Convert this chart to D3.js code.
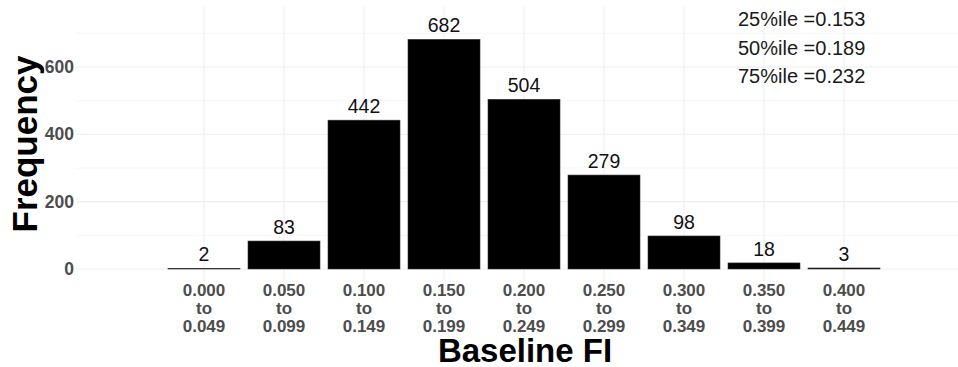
<!DOCTYPE html>
<html>
<head>
<meta charset="utf-8">
<script src="https://cdn.jsdelivr.net/npm/d3@7"></script>
<style>
  body { margin: 0; background: #fff; }
  svg { display: block; font-family: "Liberation Sans", Arial, sans-serif; }
</style>
</head>
<body>
<div id="chart"></div>
<script>
// bins of baseline FI and their counts
const binStart = ['0.000', '0.050', '0.100', '0.150', '0.200', '0.250', '0.300', '0.350', '0.400'];
const binEnd = ['0.049', '0.099', '0.149', '0.199', '0.249', '0.299', '0.349', '0.399', '0.449'];
const counts = [2, 83, 442, 682, 504, 279, 98, 18, 3];
const yTicks = [0, 200, 400, 600];
const yMinor = [100, 300, 500, 700];
const quantiles = ['25%ile =0.153', '50%ile =0.189', '75%ile =0.232'];

const width = 958, height = 367;
const panel = {left: 76, right: 964, top: 7, bottom: 281};

const data = binStart.map((s, i) => ({key: s + ' to ' + binEnd[i], lo: s, hi: binEnd[i], n: counts[i]}));

const x = d3.scaleBand()
  .domain(data.map(d => d.key))
  .range([164, 884])
  .paddingInner(0.1)
  .paddingOuter(0.05);

const y = d3.scaleLinear().domain([0, 700]).range([269, 33.3]);

const svg = d3.select('#chart').append('svg')
  .attr('width', width)
  .attr('height', height);

// grid
const grid = svg.append('g');
grid.selectAll('.minor').data(yMinor).enter().append('line')
  .attr('x1', panel.left).attr('x2', panel.right)
  .attr('y1', d => y(d)).attr('y2', d => y(d))
  .attr('stroke', '#f4f4f4').attr('stroke-width', 0.8);
grid.selectAll('.major').data(yTicks).enter().append('line')
  .attr('x1', panel.left).attr('x2', panel.right)
  .attr('y1', d => y(d)).attr('y2', d => y(d))
  .attr('stroke', '#eeeeee').attr('stroke-width', 1.1);
grid.selectAll('.vert').data(data).enter().append('line')
  .attr('x1', d => x(d.key) + x.bandwidth() / 2).attr('x2', d => x(d.key) + x.bandwidth() / 2)
  .attr('y1', panel.top).attr('y2', panel.bottom)
  .attr('stroke', '#eeeeee').attr('stroke-width', 1.1);

// bars
svg.selectAll('rect.bar').data(data).enter().append('rect')
  .attr('class', 'bar')
  .attr('x', d => x(d.key))
  .attr('y', d => y(d.n))
  .attr('width', x.bandwidth())
  .attr('height', d => y(0) - y(d.n))
  .attr('fill', '#000')
  .attr('stroke', '#333')
  .attr('stroke-width', 0.6);

// count labels
svg.selectAll('text.count').data(data).enter().append('text')
  .attr('class', 'count')
  .attr('x', d => x(d.key) + x.bandwidth() / 2)
  .attr('y', d => y(d.n) - 7)
  .attr('text-anchor', 'middle')
  .attr('font-size', 19.5)
  .attr('fill', '#111')
  .text(d => d.n);

// y axis labels
const yAxis = svg.append('g')
  .attr('transform', 'translate(74,0)')
  .call(d3.axisLeft(y).tickValues(yTicks).tickSize(0).tickPadding(0));
yAxis.select('.domain').remove();
yAxis.selectAll('text')
  .attr('font-size', 17.5)
  .attr('font-weight', 'bold')
  .attr('font-family', '"Liberation Sans", Arial, sans-serif')
  .attr('fill', '#4d4d4d');

// x axis labels on three lines
const xLab = svg.selectAll('text.xlab').data(data).enter().append('text')
  .attr('class', 'xlab')
  .attr('text-anchor', 'middle')
  .attr('font-size', 17)
  .attr('font-weight', 'bold')
  .attr('fill', '#4d4d4d');
[d => d.lo, d => 'to', d => d.hi].forEach((f, i) => {
  xLab.append('tspan')
    .attr('x', d => x(d.key) + x.bandwidth() / 2)
    .attr('y', 296 + i * 18)
    .text(f);
});

// axis titles
svg.append('text')
  .attr('transform', 'translate(37,144) rotate(-90)')
  .attr('text-anchor', 'middle')
  .attr('font-size', 35)
  .attr('font-weight', 'bold')
  .attr('fill', '#000')
  .text('Frequency');

svg.append('text')
  .attr('x', 525)
  .attr('y', 362)
  .attr('text-anchor', 'middle')
  .attr('font-size', 33)
  .attr('font-weight', 'bold')
  .attr('fill', '#000')
  .text('Baseline FI');

// quantile note
svg.selectAll('text.q').data(quantiles).enter().append('text')
  .attr('class', 'q')
  .attr('x', 738)
  .attr('y', (d, i) => 26 + i * 28.7)
  .attr('font-size', 20)
  .attr('fill', '#1a1a1a')
  .text(d => d);
</script>
</body>
</html>
